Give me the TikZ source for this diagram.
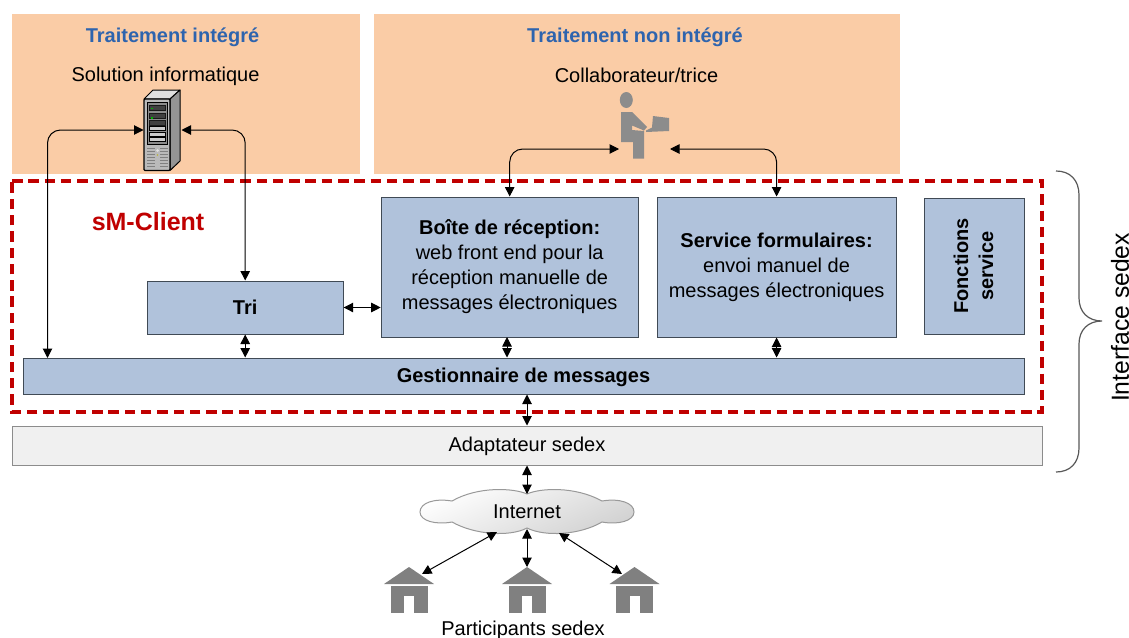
\documentclass[tikz,border=0pt]{standalone}
\usepackage{fontspec}
\setmainfont{Liberation Sans}
\usetikzlibrary{arrows.meta}
\definecolor{peach}{HTML}{FACCA6}
\definecolor{bluebox}{HTML}{B0C2DB}
\definecolor{edgebox}{HTML}{404A55}
\definecolor{sred}{HTML}{C00000}
\definecolor{tblue}{HTML}{2E64AE}
\definecolor{adfill}{HTML}{F0F0F0}
\definecolor{iconGray}{HTML}{808080}
\definecolor{persGray}{HTML}{8C8C8C}
\tikzset{
  blockbox/.style={fill=bluebox,draw=edgebox,line width=1pt,inner sep=0pt,align=center,font=\fontsize{20}{25}\selectfont},
  port/.style={draw=none,fill=none,inner sep=0pt,outer sep=0pt},
  lbl/.style={inner sep=0pt,font=\fontsize{20}{24}\selectfont,text=black},
  ttl/.style={inner sep=0pt,font=\fontsize{20}{24}\selectfont\bfseries,text=tblue},
  biarrow/.style={{Triangle[length=9.5pt,width=9.5pt]}-{Triangle[length=9.5pt,width=9.5pt]},line width=1pt,black},
  roundarrow/.style={biarrow,rounded corners=13pt},
}
\newcommand{\housepic}[1]{%
  \fill[iconGray] (#1-25,584) -- (#1,567) -- (#1+25,584) -- cycle;
  \fill[iconGray] (#1-18.5,585.5) rectangle (#1+18.5,613);
  \fill[white] (#1-5,596) rectangle (#1+5,613);
}
\begin{document}
\begin{tikzpicture}[x=1pt,y=-1pt]
\useasboundingbox (0,0) rectangle (1129,637);
\fill[white] (0,0) rectangle (1129,637);
% zones
\fill[peach] (12,14) rectangle (360,174);
\fill[peach] (374,14) rectangle (900,174);
\node[ttl] (t1) at (172.5,37) {Traitement intégré};
\node[ttl] (t2) at (635,37) {Traitement non intégré};
\node[lbl] (sol) at (165.5,76) {Solution informatique};
\node[lbl] (col) at (636.5,75.5) {Collaborateur/trice};
% server icon
\node[port,minimum width=38pt,minimum height=80pt] (srv) at (162.5,130) {};
\filldraw[fill=black!12,draw=black,line width=1pt,line join=round] (144,99) -- (153,90) -- (180,90) -- (170,99) -- cycle;
\filldraw[fill=black!42,draw=black,line width=1pt,line join=round] (170,99) -- (180,90) -- (180,161) -- (170,170.5) -- cycle;
\filldraw[fill=black!27,draw=black,line width=1.3pt,rounded corners=1pt] (144,99) rectangle (170,170.5);
\filldraw[fill=black!45,draw=black,line width=1pt] (147.5,102.5) rectangle (167.5,144);
\foreach \yy in {105.5,113,120.5}{\filldraw[fill=black!75,draw=black!90,line width=.5pt] (149.5,\yy) rectangle (165.5,\yy+5);}
\foreach \yy in {126,132,137.5}{\filldraw[fill=black!20,draw=black,line width=.6pt] (149.5,\yy) rectangle (165.5,\yy+4.2);}
\fill[green!70!black] (151,107.5) rectangle (152.5,109);
\fill[green!70!black] (151,117) rectangle (152.5,118.5);
\foreach \yy in {148.5,151.5,154.5,157.5,160.5,163.5,166.5}{
  \draw[black!50,line width=.7pt] (147,\yy) -- (155,\yy);
  \draw[black!50,line width=.7pt] (160,\yy) -- (168,\yy);}
\fill[black!12] (157.5,150.5) circle (1.5);
\fill[yellow!70!black] (157.5,155) circle (.8);
% person icon
\node[port,minimum width=51pt,minimum height=18pt] (pers) at (644.5,149) {};
\fill[persGray] (626.3,100) ellipse (6.5 and 8);
\fill[persGray] (621,112) -- (632,112) -- (647,127) -- (644,130.5) -- (632,125.5) -- (632,130) -- (644,131) -- (644,158.5) -- (633,158.5) -- (633,142) -- (621,142) -- cycle;
\fill[persGray] (653,116) -- (669,118) -- (669,131) -- (646,132) -- (646,130.5) -- (652,127.5) -- cycle;
% client frame
\draw[sred,line width=4pt,dash pattern=on 10.5pt off 5.8pt] (12,181) -- (1042,181) -- (1042,412) -- (12,412) -- cycle;
\node[inner sep=0pt,text=sred,font=\fontsize{25}{28}\selectfont\bfseries] (sm) at (148,222) {sM-Client};
% blocks
\node[blockbox,minimum width=196pt,minimum height=53pt] (tri) at (245.2,307.5) {\bfseries Tri};
\node[blockbox,minimum width=257pt,minimum height=140pt] (boite) at (509.7,267) {{\bfseries Boîte de réception:}\\web front end pour la\\réception manuelle de\\messages électroniques};
\node[blockbox,minimum width=239pt,minimum height=140pt] (serv) at (776.6,267) {{\bfseries Service formulaires:}\\envoi manuel de\\messages électroniques};
\node[blockbox,minimum width=100pt,minimum height=136pt] (fonc) at (974,266) {};
\node[inner sep=0pt,rotate=90,align=center,font=\fontsize{20}{25}\selectfont\bfseries] (fonct) at (973.5,266) {Fonctions\\service};
\node[blockbox,minimum width=1001pt,minimum height=36pt,text height=12pt,text depth=0pt] (gest) at (523.5,376) {\bfseries Gestionnaire de messages};
\node[fill=adfill,draw=black!45,line width=1pt,inner sep=0pt,minimum width=1030pt,minimum height=39pt,text height=12.4pt,text depth=0pt,font=\fontsize{20}{24}\selectfont] (adapt) at (527,445.5) {Adaptateur sedex};
% cloud
\node[port,minimum width=214pt,minimum height=35pt] (cloud) at (527,511.5) {};
\shade[top color=white,middle color=white,bottom color=black!18,draw=black!40,line width=1pt,shading angle=25]
 (527,494) .. controls (540,488) and (575,486) .. (602,501)
 .. controls (620,498) and (634,503) .. (634,512)
 .. controls (634,521) and (618,525) .. (602,522)
 .. controls (580,535) and (545,537) .. (527,528)
 .. controls (510,537) and (475,535) .. (452,522)
 .. controls (436,525) and (420,521) .. (420,512)
 .. controls (420,503) and (434,498) .. (452,501)
 .. controls (478,486) and (514,488) .. (527,494) -- cycle;
\node[lbl] (inet) at (527,512) {Internet};
% houses
\housepic{409}\housepic{527}\housepic{634.5}
\node[port,minimum width=50pt,minimum height=46pt] (hl) at (409,590) {};
\node[port,minimum width=50pt,minimum height=46pt] (hm) at (527,590) {};
\node[port,minimum width=50pt,minimum height=46pt] (hr) at (634.5,590) {};
\node[lbl] (part) at (523,630) {Participants sedex};
% ports
\coordinate (cbl) at (497,532);
\coordinate (cbm) at (527,529);
\coordinate (cbr) at (559,533);
\coordinate (hlt) at (422,574);
\coordinate (hrt) at (622,574);
\coordinate (gl) at (47.5,358);
\coordinate (bs) at (507,337);
% connectors
\draw[roundarrow] (srv.west) -| (gl);
\draw[roundarrow] (srv.east) -| (tri.north);
\draw[roundarrow] (pers.west) -| (boite.north);
\draw[roundarrow] (pers.east) -| (serv.north);
\draw[biarrow] (tri.east) -- (boite.west |- tri.east);
\draw[biarrow] (tri.south) -- (tri.south |- gest.north);
\draw[biarrow] (bs) -- (bs |- gest.north);
\draw[biarrow] (serv.south) -- (serv.south |- gest.north);
\draw[biarrow] (adapt.north) -- (adapt.north |- gest.south);
\draw[biarrow] (adapt.south) -- (cloud.north);
\draw[biarrow] (cbm) -- (hm.north);
\draw[biarrow] (cbl) -- (hlt);
\draw[biarrow] (cbr) -- (hrt);
% brace
\draw[black!65,line width=1.2pt] (1056,171) .. controls (1070,171) and (1079,180) .. (1079,195) -- (1079,298)
 .. controls (1079,312) and (1088,321) .. (1102,321)
 .. controls (1088,321) and (1079,330) .. (1079,344) -- (1079,448)
 .. controls (1079,463) and (1070,472) .. (1056,472);
\node[inner sep=0pt,rotate=90,font=\fontsize{24.7}{28}\selectfont] (iface) at (1120,317.5) {Interface sedex};
\end{tikzpicture}
\end{document}
